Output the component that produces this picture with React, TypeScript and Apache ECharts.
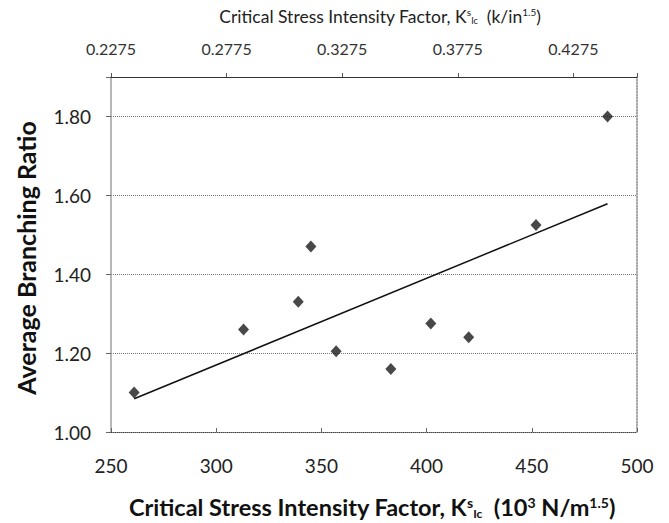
import React, { useEffect, useRef } from "react";
import * as echarts from "echarts";

// Data
const kValues = [261, 313, 339, 345, 357, 383, 402, 420, 452, 486]; // 10^3 N/m^1.5
const branchingRatios = [1.1, 1.26, 1.33, 1.47, 1.205, 1.16, 1.275, 1.24, 1.525, 1.8];

// Axis tick values / labels
const xTicks = [250, 300, 350, 400, 450, 500];
const yTicks = [1.0, 1.2, 1.4, 1.6, 1.8];
const yMax = 1.9;
const topTickLabels = ["0.2275", "0.2775", "0.3275", "0.3775", "0.4275"];
const topStep = 0.05;
const kNPerKsiSqrtIn = 1098.8; // 1 k/in^1.5 = 1098.8 kN/m^1.5

const FONT = "Lato, 'Open Sans', sans-serif";

function regression(xs: number[], ys: number[]) {
  const n = xs.length;
  const mx = xs.reduce((a, b) => a + b, 0) / n;
  const my = ys.reduce((a, b) => a + b, 0) / n;
  let sxy = 0;
  let sxx = 0;
  for (let i = 0; i < n; i++) {
    sxy += (xs[i] - mx) * (ys[i] - my);
    sxx += (xs[i] - mx) * (xs[i] - mx);
  }
  const b = sxy / sxx;
  const a = my - b * mx;
  return { a, b };
}

export default function App() {
  const ref = useRef<HTMLDivElement>(null);
  useEffect(() => {
    if (!ref.current) return;
    const chart = echarts.init(ref.current, undefined, { renderer: "svg" });
    const { a, b } = regression(kValues, branchingRatios);
    const xMin = Math.min(...kValues);
    const xMax = Math.max(...kValues);
    const topMin = xTicks[0] / kNPerKsiSqrtIn;
    const topMax = xTicks[xTicks.length - 1] / kNPerKsiSqrtIn - topMin;

    chart.setOption({
      animation: false,
      backgroundColor: "#ffffff",
      grid: {
        left: 111,
        right: 32,
        top: 77,
        bottom: 91,
        show: false,
        containLabel: false,
      },
      xAxis: [
        {
          type: "value",
          position: "bottom",
          min: xTicks[0],
          max: xTicks[xTicks.length - 1],
          interval: xTicks[1] - xTicks[0],
          axisLine: { show: true, lineStyle: { color: "#444", type: "dotted", width: 1 } },
          axisTick: { show: true, inside: true, length: 4, lineStyle: { color: "#666" } },
          axisLabel: {
            margin: 24,
            fontFamily: FONT,
            fontSize: 19,
            color: "#222",
            formatter: (v: number) => String(v),
          },
          splitLine: { show: false },
        },
        {
          type: "value",
          position: "top",
          min: 0,
          max: topMax,
          interval: topStep,
          axisLine: { show: true, lineStyle: { color: "#333", width: 1 } },
          axisTick: { show: true, inside: false, length: 4, lineStyle: { color: "#555" } },
          axisLabel: {
            margin: 21,
            fontFamily: FONT,
            fontSize: 16,
            color: "#333",
            formatter: (v: number) => {
              const i = Math.round(v / topStep);
              if (Math.abs(v - i * topStep) > 1e-6) return "";
              return topTickLabels[i] ?? "";
            },
          },
          splitLine: { show: false },
        },
      ],
      yAxis: [
        {
          type: "value",
          position: "left",
          min: yTicks[0],
          max: yMax,
          interval: yTicks[1] - yTicks[0],
          axisLine: { show: true, lineStyle: { color: "#a0a0a0", width: 1.5 } },
          axisTick: { show: true, inside: false, length: 5, lineStyle: { color: "#666" } },
          axisLabel: {
            margin: 20,
            fontFamily: FONT,
            fontSize: 19,
            color: "#222",
            formatter: (v: number) => (v > yTicks[yTicks.length - 1] + 1e-6 ? "" : v.toFixed(2)),
          },
          splitLine: { show: true, lineStyle: { color: "#777", type: "dotted", width: 1 } },
        },
        {
          type: "value",
          position: "right",
          min: yTicks[0],
          max: yMax,
          interval: yTicks[1] - yTicks[0],
          axisLine: { show: true, lineStyle: { color: "#888", type: "dotted", width: 1.5 } },
          axisTick: { show: false },
          axisLabel: { show: false },
          splitLine: { show: false },
        },
      ],
      series: [
        {
          type: "line",
          xAxisIndex: 0,
          yAxisIndex: 0,
          data: [
            [xMin, a + b * xMin],
            [xMax, a + b * xMax],
          ],
          symbol: "none",
          lineStyle: { color: "#111", width: 1.5 },
          z: 2,
        },
        {
          type: "scatter",
          xAxisIndex: 0,
          yAxisIndex: 0,
          data: kValues.map((k, i) => [k, branchingRatios[i]]),
          symbol: "diamond",
          symbolSize: [11, 12],
          itemStyle: { color: "#1a1a1a" },
          z: 3,
        },
      ],
      graphic: [
        {
          type: "text",
          x: 380,
          y: 16,
          style: {
            text: "Critical Stress Intensity Factor, K{sup|s}{sub|Ic}  (k/in{sup|1.5})",
            fontFamily: FONT,
            fontSize: 17.5,
            fill: "#222",
            align: "center",
            verticalAlign: "middle",
            rich: {
              sup: { fontSize: 10, lineHeight: 10, verticalAlign: "top", fontFamily: FONT, fill: "#222" },
              sub: { fontSize: 9, lineHeight: 9, verticalAlign: "bottom", fontFamily: FONT, fill: "#222" },
            },
          },
        },
        {
          type: "text",
          x: 372,
          y: 507,
          style: {
            text: "Critical Stress Intensity Factor, K{sup|s}{sub|Ic}  (10{sup|3} N/m{sup|1.5})",
            fontFamily: FONT,
            fontSize: 23.5,
            fontWeight: "bold",
            fill: "#111",
            align: "center",
            verticalAlign: "middle",
            rich: {
              sup: { fontSize: 14, lineHeight: 14, verticalAlign: "top", fontFamily: FONT, fontWeight: "bold", fill: "#111" },
              sub: { fontSize: 12, lineHeight: 12, verticalAlign: "bottom", fontFamily: FONT, fontWeight: "bold", fill: "#111" },
            },
          },
        },
        {
          type: "text",
          x: 26,
          y: 258,
          rotation: Math.PI / 2,
          style: {
            text: "Average Branching Ratio",
            fontFamily: FONT,
            fontSize: 25,
            fontWeight: "bold",
            fill: "#111",
            align: "center",
            verticalAlign: "middle",
          },
        },
      ],
    });
    return () => chart.dispose();
  }, []);
  return (
    <div
      ref={ref}
      style={{ position: "fixed", left: 0, top: 0, width: 669, height: 523, background: "#fff" }}
    />
  );
}
